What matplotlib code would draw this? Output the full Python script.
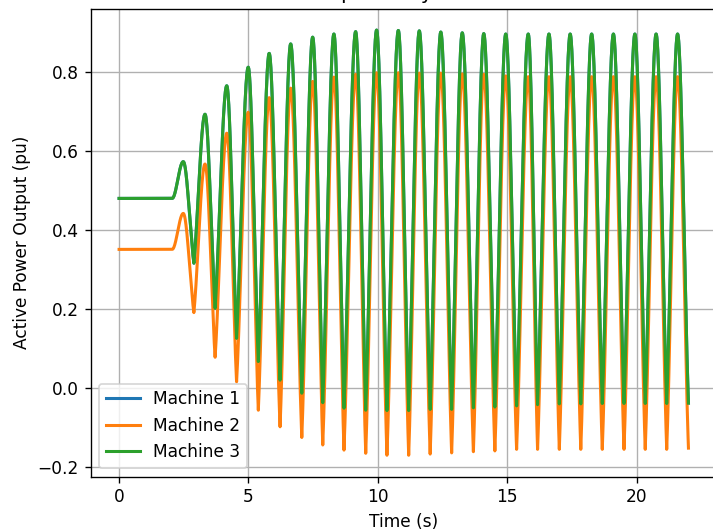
import numpy as np
import matplotlib
matplotlib.use("Agg")
import matplotlib.pyplot as plt

# ---------------- data ----------------
t_start = 0.0
t_disturb = 2.05          # end of the flat pre-disturbance part
t_end = 22.0

peak_times = [2.48, 3.32, 4.16, 4.99, 5.80, 6.63, 7.48, 8.30, 9.14, 9.95,
              10.79, 11.60, 12.43, 13.26, 14.09, 14.94, 15.81, 16.61, 17.43,
              18.26, 19.10, 19.93, 20.75, 21.58]
trough_times = [2.89, 3.71, 4.54, 5.38, 6.22, 7.06, 7.87, 8.69, 9.53, 10.35,
                11.19, 12.02, 12.85, 13.69, 14.52, 15.36, 16.17, 17.01, 17.84,
                18.67, 19.51, 20.33, 21.16]

# Machine 3 (green)
m3_initial = 0.480
m3_peaks = [0.573, 0.693, 0.765, 0.812, 0.847, 0.871, 0.888, 0.896, 0.902, 0.906,
            0.905, 0.904, 0.901, 0.899, 0.897, 0.896, 0.896, 0.896, 0.896, 0.896,
            0.896, 0.896, 0.896, 0.896]
m3_troughs = [0.316, 0.202, 0.126, 0.067, 0.020, -0.013, -0.037, -0.051, -0.056, -0.057,
              -0.057, -0.054, -0.054, -0.050, -0.048, -0.045, -0.042, -0.040, -0.040,
              -0.039, -0.039, -0.039, -0.039]
m3_end = -0.038

# Machine 2 (orange)
m2_initial = 0.351
m2_peaks = [0.442, 0.567, 0.645, 0.698, 0.735, 0.759, 0.776, 0.787, 0.794, 0.798,
            0.798, 0.797, 0.797, 0.795, 0.794, 0.790, 0.788, 0.788, 0.788, 0.788,
            0.788, 0.788, 0.788, 0.788]
m2_troughs = [0.191, 0.078, 0.016, -0.056, -0.098, -0.125, -0.144, -0.157, -0.165, -0.170,
              -0.170, -0.167, -0.164, -0.161, -0.159, -0.155, -0.155, -0.155, -0.155,
              -0.155, -0.155, -0.155, -0.155]
m2_end = -0.152

# Machine 1 (blue) – fully hidden under Machine 3 in the reference
m1_initial = 0.480
m1_peaks = list(m3_peaks)
m1_troughs = list(m3_troughs)
m1_end = -0.038

labels = ["Machine 1", "Machine 2", "Machine 3"]
colors = ["#1f77b4", "#ff7f0e", "#2ca02c"]


# ---------------- rendering helper ----------------
def trace(initial, peaks, troughs, end_val, n=60):
    """Connect the read extrema with a swing-like shape (round tops, narrow bottoms)."""
    knots_t = [t_start, t_disturb]
    knots_v = [initial, initial]
    kinds = ["flat", "flat"]
    for i, (tp, vp) in enumerate(zip(peak_times, peaks)):
        knots_t.append(tp); knots_v.append(vp); kinds.append("peak")
        if i < len(troughs):
            knots_t.append(trough_times[i]); knots_v.append(troughs[i]); kinds.append("trough")
    knots_t.append(t_end); knots_v.append(end_val); kinds.append("trough")

    ts, vs = [], []
    for k in range(len(knots_t) - 1):
        ta, tb = knots_t[k], knots_t[k + 1]
        va, vb = knots_v[k], knots_v[k + 1]
        u = np.linspace(0, 1, n)
        if kinds[k] == "flat" and kinds[k + 1] == "flat":
            v = np.full_like(u, va)
        elif kinds[k] == "flat":
            v = va + (vb - va) * (1 - np.cos(np.pi * u)) / 2
        else:
            if kinds[k] == "trough":
                s = u
                lo, hi = va, vb
            else:
                s = 1 - u
                lo, hi = vb, va
            w = 0.5
            f = w * np.sin(np.pi * s / 2) + (1 - w) * (1 - np.cos(np.pi * s)) / 2
            v = lo + (hi - lo) * f
        t = ta + (tb - ta) * u
        if k > 0:
            t, v = t[1:], v[1:]
        ts.append(t); vs.append(v)
    return np.concatenate(ts), np.concatenate(vs)


series = [
    (m1_initial, m1_peaks, m1_troughs, m1_end),
    (m2_initial, m2_peaks, m2_troughs, m2_end),
    (m3_initial, m3_peaks, m3_troughs, m3_end),
]

DPI = 122
fig = plt.figure(figsize=(713 / DPI, 531 / DPI), dpi=DPI)
ax = fig.add_axes([0.1271, 0.1026, 0.8784, 0.8808])

for (ini, pk, tr, ev), lab, col in zip(series, labels, colors):
    t, v = trace(ini, pk, tr, ev)
    ax.plot(t, v, color=col, label=lab, linewidth=1.8)

ax.set_xlabel("Time (s)")
ax.set_ylabel("Active Power Output (pu)")
ax.set_title("Active Power Output of Synchronous Machines")
ax.grid(True)
ax.legend(loc="lower left")

fig.savefig("out.png", dpi=DPI)
